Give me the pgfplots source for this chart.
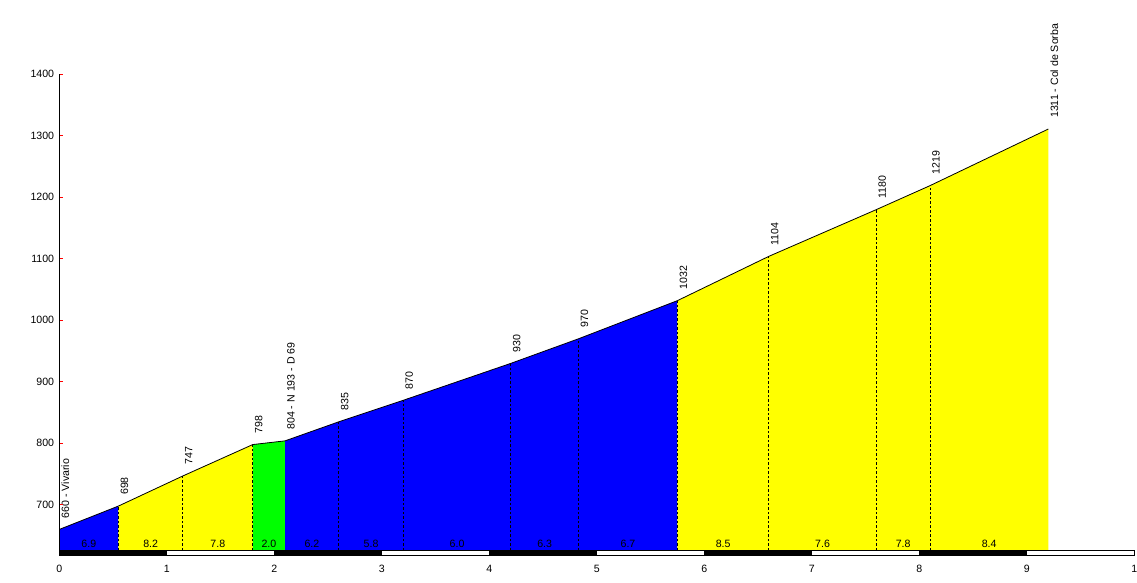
\documentclass[border=0pt]{standalone}
\usepackage{fontspec}
\setmainfont{Liberation Sans}
\usepackage{pgfplots}
\pgfplotsset{compat=1.18}
\usetikzlibrary{calc}
\definecolor{cblue}{RGB}{0,0,255}
\definecolor{cyel}{RGB}{255,255,0}
\definecolor{cgreen}{RGB}{0,255,0}
\newcommand{\lf}{\fontsize{10.6}{12}\selectfont}
\begin{document}
\begin{tikzpicture}
\begin{axis}[
  scale only axis, width=1075pt, height=481.2pt,
  xmin=0, xmax=10, ymin=617.6, ymax=1400,
  axis x line*=bottom, axis y line*=left,
  x axis line style={draw=none},
  y axis line style={black, line width=0.8pt, -},
  xtick={0,1,...,10}, xticklabels={0,1,2,3,4,5,6,7,8,9,1},
  ytick={700,800,...,1400},
  xtick style={draw=none},
  ytick style={red, line width=0.8pt},
  tick align=inside, major tick length=3.5pt,
  /pgf/number format/assume math mode=true,
  /pgf/number format/1000 sep={},
  tick label style={font=\lf},
  xticklabel style={anchor=north, inner sep=0pt, yshift=-9.5pt},
  yticklabel style={anchor=east, inner sep=0pt, xshift=-5pt},
  clip=false, axis on top,
]
% coloured areas
\addplot[fill=cblue, draw=none] coordinates {(0,626.5) (0,660) (0.55,698) (0.55,626.5)} -- cycle;
\addplot[fill=cyel, draw=none] coordinates {(0.55,626.5) (0.55,698) (1.15,747) (1.8,798) (1.8,626.5)} -- cycle;
\addplot[fill=cgreen, draw=none] coordinates {(1.8,626.5) (1.8,798) (2.1,804) (2.1,626.5)} -- cycle;
\addplot[fill=cblue, draw=none] coordinates {(2.1,626.5) (2.1,804) (2.6,835) (3.2,870) (4.2,930) (4.83,970) (5.75,1032) (5.75,626.5)} -- cycle;
\addplot[fill=cyel, draw=none] coordinates {(5.75,626.5) (5.75,1032) (6.6,1104) (7.6,1180) (8.1,1219) (9.2,1311) (9.2,626.5)} -- cycle;
% profile line
\addplot[black, line width=0.8pt, mark=none] coordinates {(0,660) (0.55,698) (1.15,747) (1.8,798) (2.1,804) (2.6,835) (3.2,870) (4.2,930) (4.83,970) (5.75,1032) (6.6,1104) (7.6,1180) (8.1,1219) (9.2,1311)};
% dashed verticals
\addplot[black, line width=0.9pt, dash pattern=on 2.5pt off 2pt, mark=none, unbounded coords=jump] coordinates {
 (0.55,626.5) (0.55,698) (nan,nan)
 (1.15,626.5) (1.15,747) (nan,nan)
 (1.8,626.5) (1.8,798) (nan,nan)
 (2.6,626.5) (2.6,835) (nan,nan)
 (3.2,626.5) (3.2,870) (nan,nan)
 (4.2,626.5) (4.2,930) (nan,nan)
 (4.83,626.5) (4.83,970) (nan,nan)
 (5.75,626.5) (5.75,1032) (nan,nan)
 (6.6,626.5) (6.6,1104) (nan,nan)
 (7.6,626.5) (7.6,1180) (nan,nan)
 (8.1,626.5) (8.1,1219)};
% km bar
\addplot[fill=white, draw=black, line width=0.8pt] coordinates {(0,617.6) (10,617.6) (10,626.5) (0,626.5)} -- cycle;
\addplot[fill=black, draw=black, line width=0.8pt] coordinates {(0,617.6) (1,617.6) (1,626.5) (0,626.5)} -- cycle;
\addplot[fill=black, draw=black, line width=0.8pt] coordinates {(2,617.6) (3,617.6) (3,626.5) (2,626.5)} -- cycle;
\addplot[fill=black, draw=black, line width=0.8pt] coordinates {(4,617.6) (5,617.6) (5,626.5) (4,626.5)} -- cycle;
\addplot[fill=black, draw=black, line width=0.8pt] coordinates {(6,617.6) (7,617.6) (7,626.5) (6,626.5)} -- cycle;
\addplot[fill=black, draw=black, line width=0.8pt] coordinates {(8,617.6) (9,617.6) (9,626.5) (8,626.5)} -- cycle;
% gradient labels
\begin{scope}[every node/.style={anchor=base, inner sep=0pt, yshift=3pt, font=\lf}]
\node at (axis cs:0.275,626.5) {6.9};
\node at (axis cs:0.85,626.5) {8.2};
\node at (axis cs:1.475,626.5) {7.8};
\node at (axis cs:1.95,626.5) {2.0};
\node at (axis cs:2.35,626.5) {6.2};
\node at (axis cs:2.9,626.5) {5.8};
\node at (axis cs:3.7,626.5) {6.0};
\node at (axis cs:4.515,626.5) {6.3};
\node at (axis cs:5.29,626.5) {6.7};
\node at (axis cs:6.175,626.5) {8.5};
\node at (axis cs:7.1,626.5) {7.6};
\node at (axis cs:7.85,626.5) {7.8};
\node at (axis cs:8.65,626.5) {8.4};
\end{scope}
% elevation labels
\begin{scope}[every node/.style={anchor=north west, inner sep=0pt, xshift=2pt, yshift=11pt, rotate=90, font=\lf}]
\node at (axis cs:0,660) {660 - Vivario};
\node at (axis cs:0.55,698) {698};
\node at (axis cs:1.15,747) {747};
\node at (axis cs:1.8,798) {798};
\node at (axis cs:2.1,804) {804 - N 193 - D 69};
\node at (axis cs:2.6,835) {835};
\node at (axis cs:3.2,870) {870};
\node at (axis cs:4.2,930) {930};
\node at (axis cs:4.83,970) {970};
\node at (axis cs:5.75,1032) {1032};
\node at (axis cs:6.6,1104) {1104};
\node at (axis cs:7.6,1180) {1180};
\node at (axis cs:8.1,1219) {1219};
\node at (axis cs:9.2,1311) {1311 - Col de Sorba};
\end{scope}
\end{axis}
\pgfresetboundingbox
\path ($(current axis.south west)+(-59.3pt,-26.5pt)$) rectangle ($(current axis.north east)+(2.7pt,74.3pt)$);
\end{tikzpicture}
\end{document}
